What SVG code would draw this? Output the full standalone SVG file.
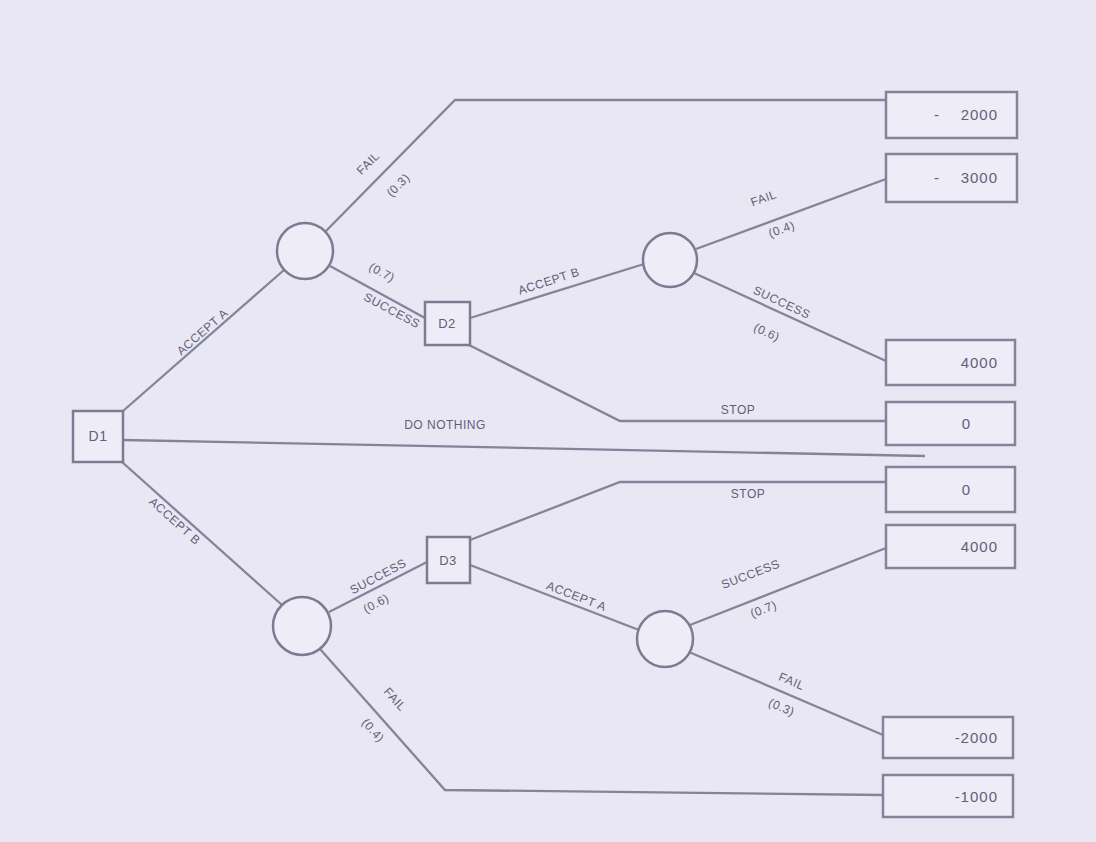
<svg xmlns="http://www.w3.org/2000/svg" width="1096" height="842" viewBox="0 0 1096 842">
<style>
.ln{fill:none;stroke:#85839a;stroke-width:2.3}
.bx{fill:#eeecf7;stroke:#85839a;stroke-width:2.5}
.nd{fill:#eeecf7;stroke:#7d7b92;stroke-width:2.5}
.t{font-family:"Liberation Sans",Arial,sans-serif;font-size:12px;fill:#625f78;letter-spacing:0.5px}
.v{font-family:"Liberation Sans",Arial,sans-serif;font-size:15px;fill:#625f78;letter-spacing:1px;text-anchor:end}
.c{text-anchor:middle}
</style>
<rect width="1096" height="842" fill="#e9e7f3"/>
<g id="connectors">
<line class="ln" x1="123" y1="411" x2="284" y2="270"/>
<line class="ln" x1="123" y1="440" x2="925" y2="456"/>
<line class="ln" x1="122" y1="462" x2="282" y2="605"/>
<polyline class="ln" points="325,232 455,100 886,100"/>
<line class="ln" x1="330" y1="266" x2="425" y2="318"/>
<line class="ln" x1="470" y1="318" x2="644" y2="264"/>
<line class="ln" x1="696" y1="249" x2="886" y2="179"/>
<line class="ln" x1="694" y1="273" x2="886" y2="361"/>
<polyline class="ln" points="465,343 620,421 886,421"/>
<line class="ln" x1="329" y1="612" x2="427" y2="562"/>
<polyline class="ln" points="320,649 445,790 883,795"/>
<polyline class="ln" points="470,540 620,482 886,482"/>
<line class="ln" x1="470" y1="565" x2="639" y2="630"/>
<line class="ln" x1="690" y1="625" x2="886" y2="548"/>
<line class="ln" x1="689" y1="652" x2="883" y2="735"/>
</g>
<g id="labels">
<text class="t c" transform="translate(205,335) rotate(-41)">ACCEPT A</text>
<text class="t c" transform="translate(172,524) rotate(42)">ACCEPT B</text>
<text class="t c" x="445" y="429">DO NOTHING</text>
<text class="t c" transform="translate(371,166) rotate(-45)">FAIL</text>
<text class="t c" transform="translate(401,188) rotate(-45)">(0.3)</text>
<text class="t c" transform="translate(380,276) rotate(28)">(0.7)</text>
<text class="t c" transform="translate(390,314) rotate(28)">SUCCESS</text>
<text class="t c" transform="translate(550,285) rotate(-18)">ACCEPT B</text>
<text class="t c" transform="translate(765,202) rotate(-20)">FAIL</text>
<text class="t c" transform="translate(783,233) rotate(-20)">(0.4)</text>
<text class="t c" transform="translate(780,306) rotate(25)">SUCCESS</text>
<text class="t c" transform="translate(765,336) rotate(25)">(0.6)</text>
<text class="t c" x="738" y="414">STOP</text>
<text class="t c" x="748" y="498">STOP</text>
<text class="t c" transform="translate(380,580) rotate(-28)">SUCCESS</text>
<text class="t c" transform="translate(378,607) rotate(-28)">(0.6)</text>
<text class="t c" transform="translate(392,702) rotate(48)">FAIL</text>
<text class="t c" transform="translate(370,733) rotate(48)">(0.4)</text>
<text class="t c" transform="translate(575,600) rotate(21)">ACCEPT A</text>
<text class="t c" transform="translate(752,578) rotate(-21)">SUCCESS</text>
<text class="t c" transform="translate(765,613) rotate(-21)">(0.7)</text>
<text class="t c" transform="translate(790,685) rotate(23)">FAIL</text>
<text class="t c" transform="translate(780,711) rotate(23)">(0.3)</text>
</g>
<g id="D1"><rect class="nd" x="73" y="411" width="50" height="51"/><text class="t c" x="98" y="441" style="font-size:14px">D1</text></g>
<g id="C1"><circle class="nd" cx="305" cy="251" r="28"/></g>
<g id="C2"><circle class="nd" cx="302" cy="626" r="29"/></g>
<g id="D2"><rect class="nd" x="425" y="302" width="45" height="43"/><text class="t c" x="447" y="328" style="font-size:13px">D2</text></g>
<g id="D3"><rect class="nd" x="427" y="537" width="43" height="46"/><text class="t c" x="448" y="565" style="font-size:13px">D3</text></g>
<g id="C3"><circle class="nd" cx="670" cy="260" r="27"/></g>
<g id="C4"><circle class="nd" cx="665" cy="639" r="28"/></g>
<g id="V1"><rect class="bx" x="886" y="92" width="131" height="46"/><text class="v" y="120"><tspan x="940">-</tspan><tspan x="998">2000</tspan></text></g>
<g id="V2"><rect class="bx" x="886" y="154" width="131" height="48"/><text class="v" y="183"><tspan x="940">-</tspan><tspan x="998">3000</tspan></text></g>
<g id="V3"><rect class="bx" x="886" y="340" width="129" height="45"/><text class="v" x="998" y="368">4000</text></g>
<g id="V4"><rect class="bx" x="886" y="402" width="129" height="43"/><text class="v" x="971" y="429">0</text></g>
<g id="V5"><rect class="bx" x="886" y="467" width="129" height="45"/><text class="v" x="971" y="495">0</text></g>
<g id="V6"><rect class="bx" x="886" y="525" width="129" height="43"/><text class="v" x="998" y="552">4000</text></g>
<g id="V7"><rect class="bx" x="883" y="717" width="130" height="41"/><text class="v" x="998" y="743">-2000</text></g>
<g id="V8"><rect class="bx" x="883" y="775" width="130" height="42"/><text class="v" x="998" y="802">-1000</text></g>
</svg>
